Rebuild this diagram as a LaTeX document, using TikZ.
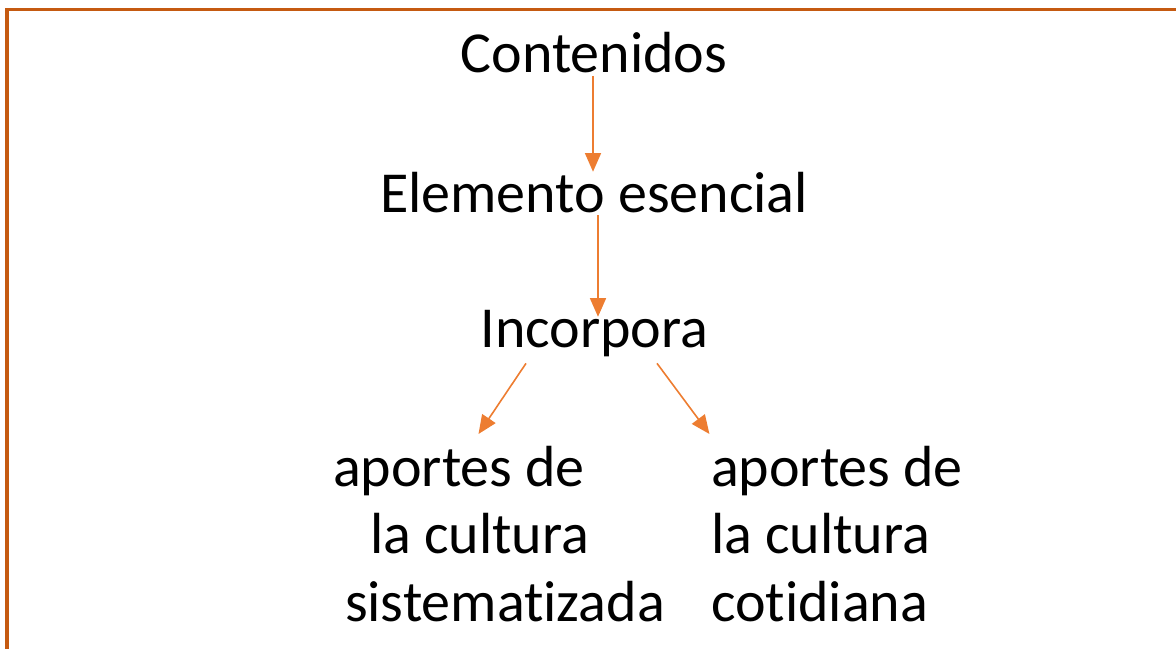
\documentclass[tikz,border=0pt]{standalone}
\usepackage{fontspec}
\setmainfont[Ligatures={NoCommon}]{Carlito}
\usetikzlibrary{arrows.meta,calc}

\definecolor{frameorange}{HTML}{C55A11}
\definecolor{linkorange}{HTML}{ED7D31}

\tikzset{
  lbl/.style={inner sep=0pt,outer sep=0pt,align=left,
    font=\fontsize{43.5}{50.6}\selectfont},
  link/.style={-{Triangle[length=14pt,width=12pt]},linkorange,line width=1.2pt},
  frame/.style={frameorange,line width=2.3pt}
}

\begin{document}
\begin{tikzpicture}[x=0.75pt,y=-0.75pt]
  \useasboundingbox (0,0) rectangle (1176,649);
  \draw[frame] (1176,9.5) -- (7,9.5) -- (7,649);

  \node[lbl,anchor=base] (cont) at (594,73) {Contenidos};
  \node[lbl,anchor=base] (elem) at (594,212) {Elemento esencial};
  \node[lbl,anchor=base] (incorp) at (594.5,347) {Incorpora};
  \node[lbl,anchor=north west] (sist) at (333,446)
    {aportes de\\\hspace*{27.75pt}la cultura\\\hspace*{9pt}sistematizada};
  \node[lbl,anchor=north west] (coti) at (711,446)
    {aportes de\\la cultura\\cotidiana};

  \draw[link] ($(cont.base)+(-1,3)$) -- ($(elem.north)+(-1,0)$);
  \draw[link] ($(elem.south)+(4,3)$) -- ($(incorp.north)+(3.5,7)$);
  \draw[link] ($(incorp.south)+(-68.5,7)$) -- ($(sist.north)+(-20.5,-12)$);
  \draw[link] ($(incorp.south)+(62.5,7)$) -- ($(coti.north)+(-127.5,-12)$);
\end{tikzpicture}
\end{document}
